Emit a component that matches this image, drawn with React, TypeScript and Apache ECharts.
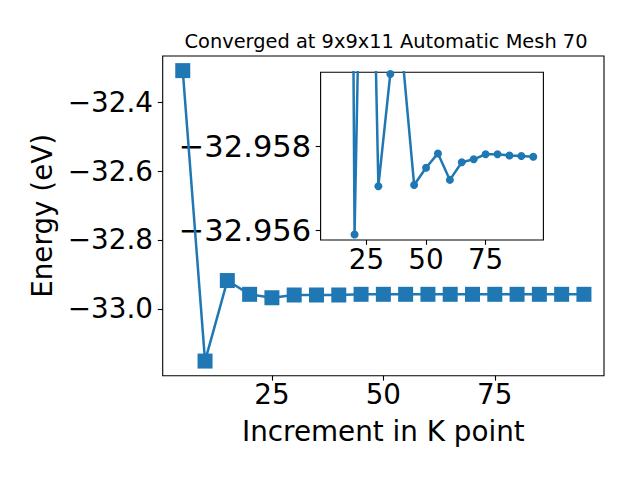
import React, { useEffect, useRef } from "react";
import * as echarts from "echarts";

const kPoints = [5, 10, 15, 20, 25, 30, 35, 40, 45, 50, 55, 60, 65, 70, 75, 80, 85, 90, 95];
const energy = [
  -32.308, -33.152, -32.918, -32.958, -32.968, -32.96, -32.96, -32.96, -32.958, -32.958,
  -32.958, -32.958, -32.958, -32.958, -32.958, -32.958, -32.958, -32.958, -32.958,
];
const insetK = [10, 15, 20, 25, 30, 35, 40, 45, 50, 55, 60, 65, 70, 75, 80, 85, 90, 95];
const insetEnergy = [
  -33.1, -33.0, -32.9559, -32.9705, -32.95705, -32.95972, -32.9602, -32.95708, -32.95749,
  -32.95783, -32.9572, -32.95762, -32.95769, -32.95781, -32.95781, -32.95778, -32.95777, -32.95775,
];
const xTicks = [25, 50, 75];
const mainYTicks = [-33.0, -32.8, -32.6, -32.4];
const insetYTicks = [-32.958, -32.956];

const FONT = "DejaVu Sans";
const BLUE = "#1f77b4";
const fmt = (d: number) => (v: number) => (v < 0 ? "\u2212" : "") + Math.abs(v).toFixed(d);

export default function App() {
  const ref = useRef<HTMLDivElement>(null);
  useEffect(() => {
    document.body.style.margin = "0";
    const chart = echarts.init(ref.current!, null, { renderer: "svg" });
    const tickStyle = { color: "#000", width: 1.1 };
    const labelStyle = { color: "#000", fontFamily: FONT, fontSize: 27.8 };
    chart.setOption({
      animation: false,
      backgroundColor: "#fff",
      title: {
        text: "Converged at 9x9x11 Automatic Mesh 70",
        left: 381,
        top: 27,
        textAlign: "center",
        textStyle: { fontFamily: FONT, fontSize: 19.4, fontWeight: "normal", color: "#000" },
      },
      grid: [
        { left: 162.7, top: 56, width: 441.3, height: 319.7, show: true, borderColor: "#000", borderWidth: 1.1, backgroundColor: "#fff" },
        { left: 320.6, top: 72.3, width: 222.8, height: 167.7, show: true, borderColor: "#000", borderWidth: 1.1, backgroundColor: "#fff" },
      ],
      xAxis: [
        {
          type: "value", gridIndex: 0, min: 0.5, max: 99.5,
          axisLine: { show: false }, splitLine: { show: false },
          axisTick: { show: true, length: 4.9, lineStyle: tickStyle, customValues: xTicks },
          axisLabel: { ...labelStyle, margin: 5, customValues: xTicks, formatter: fmt(0) },
          name: "Increment in K point", nameLocation: "middle", nameGap: 42,
          nameTextStyle: { ...labelStyle },
        },
        {
          type: "value", gridIndex: 1, min: 5.75, max: 99.25,
          axisLine: { show: false }, splitLine: { show: false },
          axisTick: { show: true, length: 4.9, lineStyle: tickStyle, customValues: xTicks },
          axisLabel: { ...labelStyle, margin: 5.5, customValues: xTicks, formatter: fmt(0) },
        },
      ],
      yAxis: [
        {
          type: "value", gridIndex: 0, min: -33.1945, max: -32.2655,
          axisLine: { show: false }, splitLine: { show: false },
          axisTick: { show: true, length: 4.9, lineStyle: tickStyle, customValues: mainYTicks },
          axisLabel: { ...labelStyle, margin: 9.7, customValues: mainYTicks, formatter: fmt(1) },
          name: "Energy (eV)", nameLocation: "middle", nameGap: 104,
          nameTextStyle: { ...labelStyle },
        },
        {
          type: "value", gridIndex: 1, inverse: true, min: -32.95976, max: -32.95577,
          axisLine: { show: false }, splitLine: { show: false },
          axisTick: { show: true, length: 4.9, lineStyle: tickStyle, customValues: insetYTicks },
          axisLabel: { ...labelStyle, fontSize: 30.5, margin: 9.5, customValues: insetYTicks, formatter: fmt(3) },
        },
      ],
      series: [
        {
          type: "line", xAxisIndex: 0, yAxisIndex: 0,
          data: kPoints.map((k, i) => [k, energy[i]]),
          symbol: "rect", symbolSize: 15,
          lineStyle: { color: BLUE, width: 2.5 }, itemStyle: { color: BLUE },
          z: 3,
        },
        {
          type: "line", xAxisIndex: 1, yAxisIndex: 1, clip: true,
          data: insetK.map((k, i) => [k, insetEnergy[i]]),
          symbol: "circle", symbolSize: 8,
          lineStyle: { color: BLUE, width: 2.5 }, itemStyle: { color: BLUE },
          z: 4,
        },
      ],
    });
    return () => chart.dispose();
  }, []);
  return <div ref={ref} style={{ position: "fixed", left: 0, top: 0, width: 640, height: 480 }} />;
}
